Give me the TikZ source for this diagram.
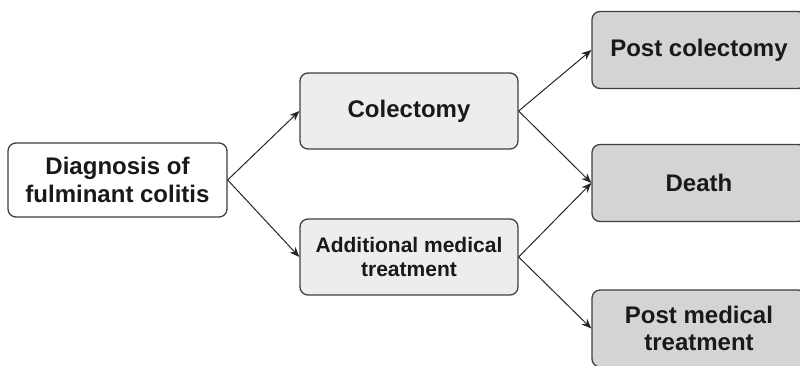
\documentclass[tikz,border=0pt]{standalone}
\usepackage{fontspec}
\setmainfont{Liberation Sans}
\usetikzlibrary{arrows.meta}
\begin{document}
\begin{tikzpicture}[x=1pt,y=-1pt,
  box/.style={draw=black!75, line width=1.3pt, rounded corners=8pt, align=center,
    inner sep=0pt, font=\bfseries\fontsize{24}{27.5}\selectfont, text=black!90},
  startbox/.style={box, fill=white, minimum width=219pt, minimum height=74pt},
  midbox/.style={box, fill=black!7, minimum width=218pt, minimum height=76pt},
  endbox/.style={box, fill=black!17, minimum width=214pt, minimum height=77pt},
  conn/.style={draw=black!85, line width=1pt, -{Stealth[length=10pt,width=8pt]}}]
\useasboundingbox (0,0) rectangle (800,365);
\clip (0,0) rectangle (800,365);
\node[startbox] (diag) at (117.5,180) {Diagnosis of\\fulminant colitis};
\node[midbox] (col) at (409,111) {Colectomy};
\node[midbox, font=\bfseries\fontsize{21}{24.5}\selectfont] (add) at (409,257) {Additional medical\\treatment};
\node[endbox] (postcol) at (699,50) {Post colectomy};
\node[endbox] (death) at (699,183) {Death};
\node[endbox] (postmed) at (699,328.5) {Post medical\\treatment};
\draw[conn] (diag.east) -- (col.west);
\draw[conn] (diag.east) -- (add.west);
\draw[conn] (col.east) -- (postcol.west);
\draw[conn] (col.east) -- (death.west);
\draw[conn] (add.east) -- (death.west);
\draw[conn] (add.east) -- (postmed.west);
\end{tikzpicture}
\end{document}
